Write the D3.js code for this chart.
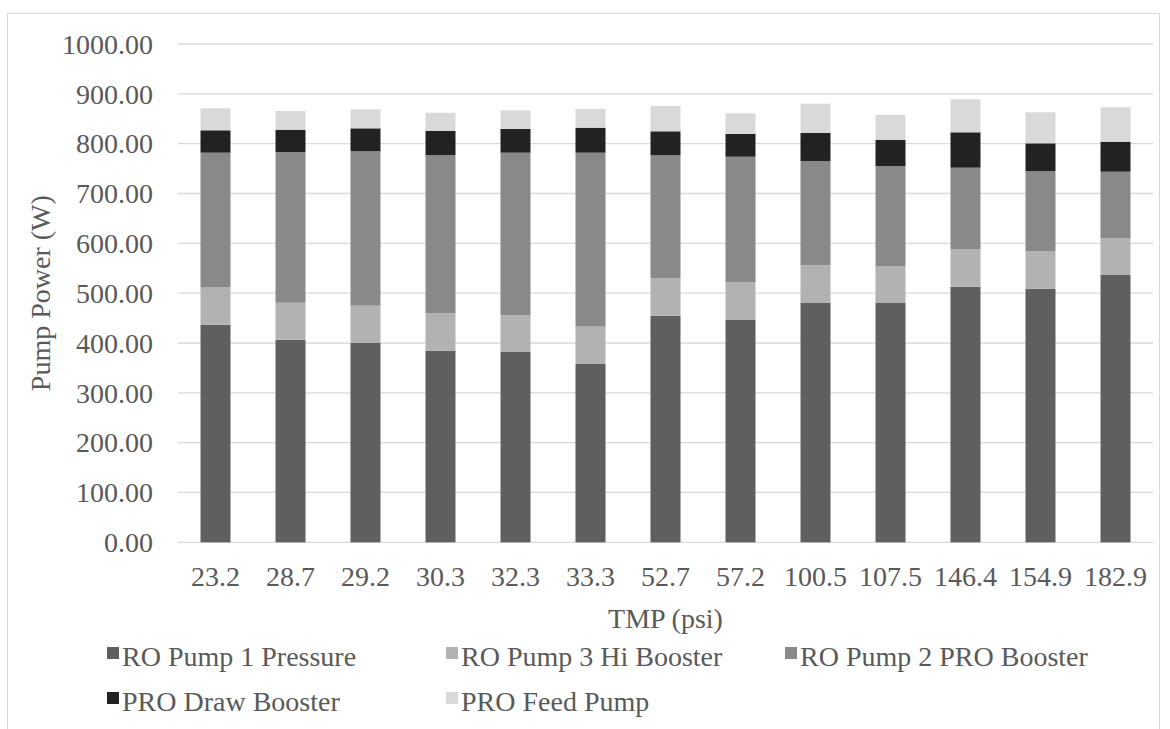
<!DOCTYPE html>
<html>
<head>
<meta charset="utf-8">
<script src="https://cdn.jsdelivr.net/npm/d3@7"></script>
<style>
  body { margin: 0; background: #fff; }
</style>
</head>
<body>
<svg id="chart" width="1170" height="729"></svg>
<script>
// TMP (psi) categories
var tmp = ["23.2", "28.7", "29.2", "30.3", "32.3", "33.3", "52.7", "57.2", "100.5", "107.5", "146.4", "154.9", "182.9"];

// pump power (W)
var roPump1 = [436.7, 406.6, 400.0, 384.5, 381.9, 358.0, 454.7, 446.1, 480.2, 480.2, 513.0, 508.9, 536.4];
var roPump3 = [75.6, 74.2, 74.8, 75.1, 73.7, 74.7, 75.7, 75.7, 75.7, 74.3, 75.6, 75.7, 74.3];
var roPump2 = [269.6, 302.5, 309.9, 317.6, 326.3, 349.2, 246.2, 252.0, 209.3, 200.7, 163.2, 160.5, 133.0];
var drawBooster = [44.9, 44.7, 46.1, 48.2, 47.5, 50.1, 48.2, 45.6, 56.2, 52.2, 71.0, 55.6, 60.2];
var feedPump = [44.2, 37.5, 38.2, 36.7, 37.5, 37.6, 50.8, 41.5, 58.8, 50.1, 66.2, 62.2, 69.1];

var seriesNames = ["RO Pump 1 Pressure", "RO Pump 3 Hi Booster", "RO Pump 2 PRO Booster", "PRO Draw Booster", "PRO Feed Pump"];
var colors = ["#5f5f5f", "#b2b2b2", "#898989", "#222222", "#d9d9d9"];
var yTicks = [0, 100, 200, 300, 400, 500, 600, 700, 800, 900, 1000];

(function () {
  var rows = tmp.map(function (t, i) {
    return {
      tmp: t,
      s0: roPump1[i],
      s1: roPump3[i],
      s2: roPump2[i],
      s3: drawBooster[i],
      s4: feedPump[i]
    };
  });

  var font = "'Liberation Serif', 'Times New Roman', 'DejaVu Serif', serif";
  var svg = d3.select("#chart")
    .style("font-family", font);
  var plotLeft = 178, plotRight = 1153, plotTop = 44, plotBottom = 542.3;

  // chart frame
  svg.append("rect")
    .attr("x", 7.5).attr("y", 13.5)
    .attr("width", 1152).attr("height", 760)
    .attr("fill", "none")
    .attr("stroke", "#d9d9d9")
    .attr("stroke-width", 1);

  var x = d3.scaleBand().domain(tmp).range([plotLeft, plotRight]).paddingInner(0.6).paddingOuter(0.3);
  var y = d3.scaleLinear().domain([0, 1000]).range([plotBottom, plotTop]);

  // gridlines
  svg.append("g")
    .selectAll("line")
    .data(yTicks)
    .enter()
    .append("line")
    .attr("x1", plotLeft).attr("x2", plotRight)
    .attr("y1", function (d) { return y(d); })
    .attr("y2", function (d) { return y(d); })
    .attr("stroke", "#d9d9d9")
    .attr("stroke-width", 1.3);

  // y tick labels
  svg.append("g")
    .selectAll("text")
    .data(yTicks)
    .enter()
    .append("text")
    .attr("x", 153)
    .attr("y", function (d) { return y(d); })
    .attr("dy", "0.35em")
    .attr("text-anchor", "end")
    .attr("fill", "#595959")
    .style("font-size", "28px")
    .text(function (d) { return d.toFixed(2); });

  var stack = d3.stack().keys(["s0", "s1", "s2", "s3", "s4"]);
  var layers = stack(rows);

  svg.append("g")
    .selectAll("g")
    .data(layers)
    .enter()
    .append("g")
    .attr("fill", function (d, i) { return colors[i]; })
    .selectAll("rect")
    .data(function (d) { return d; })
    .enter()
    .append("rect")
    .attr("x", function (d) { return x(d.data.tmp); })
    .attr("width", x.bandwidth())
    .attr("y", function (d) { return y(d[1]); })
    .attr("height", function (d) { return y(d[0]) - y(d[1]); });

  // x tick labels
  svg.append("g")
    .selectAll("text")
    .data(tmp)
    .enter()
    .append("text")
    .attr("x", function (d) { return x(d) + x.bandwidth() / 2; })
    .attr("y", 586)
    .attr("text-anchor", "middle")
    .attr("fill", "#595959")
    .style("font-size", "28px")
    .text(function (d) { return d; });

  // axis titles
  svg.append("text")
    .attr("x", (plotLeft + plotRight) / 2)
    .attr("y", 628)
    .attr("text-anchor", "middle")
    .attr("fill", "#595959")
    .style("font-size", "28px")
    .text("TMP (psi)");

  svg.append("text")
    .attr("transform", "translate(50," + ((plotTop + plotBottom) / 2) + ") rotate(-90)")
    .attr("text-anchor", "middle")
    .attr("fill", "#595959")
    .style("font-size", "28px")
    .text("Pump Power (W)");

  // legend
  var legend = svg.append("g")
    .selectAll("g")
    .data(seriesNames)
    .enter()
    .append("g")
    .attr("transform", function (d, i) {
      return "translate(" + (107 + (i % 3) * 339) + "," + (666 + Math.floor(i / 3) * 45) + ")";
    });

  legend.append("rect")
    .attr("x", 0).attr("y", -19)
    .attr("width", 12).attr("height", 12)
    .attr("fill", function (d, i) { return colors[i]; });

  legend.append("text")
    .attr("x", 15)
    .attr("y", 0)
    .attr("fill", "#595959")
    .style("font-size", "28px")
    .text(function (d) { return d; });
})();
</script>
</body>
</html>
